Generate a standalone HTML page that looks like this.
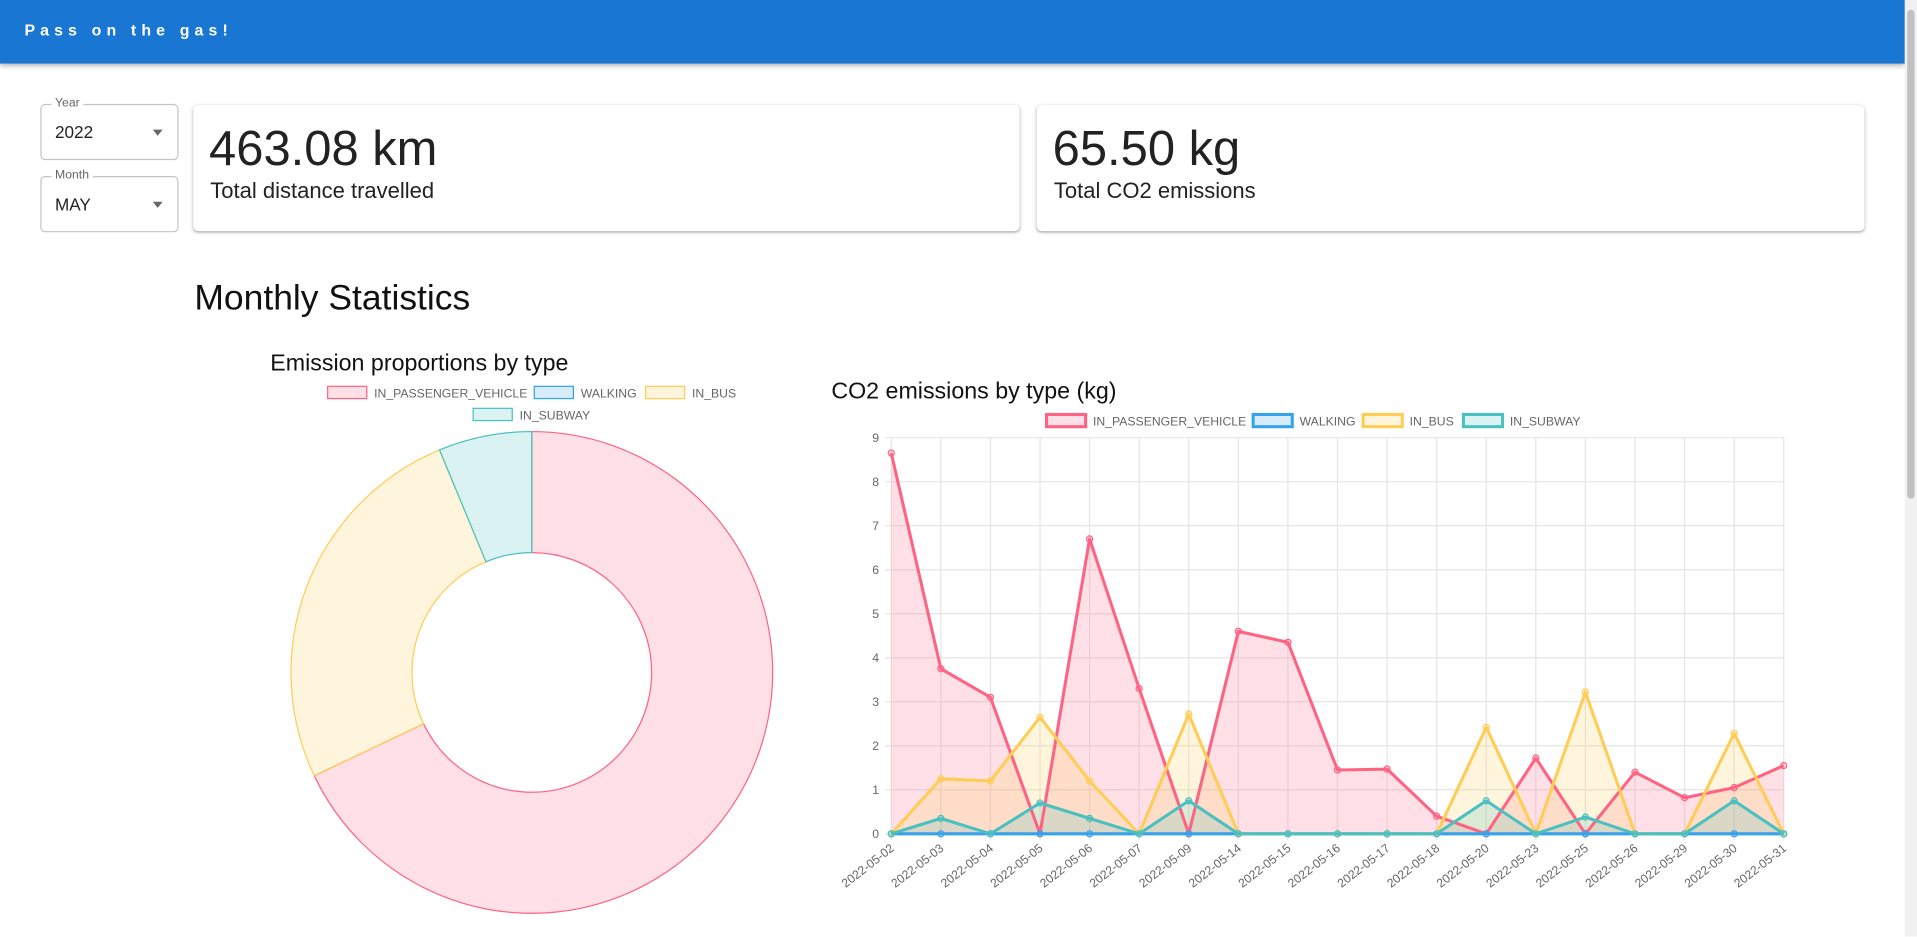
<!DOCTYPE html>
<html><head><meta charset="utf-8">
<style>
html,body{margin:0;padding:0;width:1917px;height:936px;overflow:hidden;background:#fff;font-family:"Liberation Sans",sans-serif;}
#wrap{position:absolute;left:0;top:0;width:1568px;height:766px;transform:scale(1.22258);transform-origin:0 0;}
.abs{position:absolute;}
.appbar{left:0;top:0;width:1558px;height:52px;background:#1976d2;box-shadow:0 2px 4px rgba(0,0,0,.3);}
.appbar span{position:absolute;left:20px;top:17px;color:#fff;font-weight:bold;font-size:13px;letter-spacing:4.2px;}
.sel{border:1px solid #c4c4c4;border-radius:4px;width:111px;height:44px;}
.sel .lbl{position:absolute;left:8px;top:-7px;background:#fff;padding:0 3px;font-size:10px;color:#666;}
.sel .val{position:absolute;left:11px;top:14px;font-size:14px;color:#222;}
.sel .arr{position:absolute;right:12px;top:20px;width:0;height:0;border-left:4px solid transparent;border-right:4px solid transparent;border-top:5px solid #666;}
.card{background:#fff;border-radius:4px;box-shadow:0 1px 3px rgba(0,0,0,.25),0 1px 1px rgba(0,0,0,.12);height:103px;}
.card .big{position:absolute;left:13px;top:14px;font-size:40px;color:#222;}
.card .sub{position:absolute;left:14px;top:60px;font-size:18px;color:#222;}
.scroll{left:1558px;top:0;width:10px;height:766px;background:#f1f1f1;}
.thumb{left:1560px;top:8px;width:6px;height:400px;background:#c1c1c1;border-radius:3px;}
</style></head><body>
<div id="wrap">
<div class="abs appbar"><span>Pass on the gas!</span></div>
<div class="abs scroll"></div>
<div class="abs thumb"></div>
<div class="abs sel" style="left:33px;top:85px"><span class="lbl">Year</span><span class="val">2022</span><span class="arr"></span></div>
<div class="abs sel" style="left:33px;top:144px"><span class="lbl">Month</span><span class="val">MAY</span><span class="arr"></span></div>
<div class="abs card" style="left:158px;top:86px;width:676px"><div class="big">463.08 km</div><div class="sub">Total distance travelled</div></div>
<div class="abs card" style="left:848px;top:86px;width:677px"><div class="big">65.50 kg</div><div class="sub">Total CO2 emissions</div></div>
<div class="abs" style="left:159px;top:228px;font-size:29px;color:#111">Monthly Statistics</div>
<svg class="abs" style="left:0;top:0" width="1568" height="766" id="svg"></svg>
</div>
<script>
const pieLabels=["IN_PASSENGER_VEHICLE","WALKING","IN_BUS","IN_SUBWAY"];
const pieValues=[44.5,0,16.9,4.1];
const dates=["2022-05-02","2022-05-03","2022-05-04","2022-05-05","2022-05-06","2022-05-07","2022-05-09","2022-05-14","2022-05-15","2022-05-16","2022-05-17","2022-05-18","2022-05-20","2022-05-23","2022-05-25","2022-05-26","2022-05-29","2022-05-30","2022-05-31"];
const passenger=[8.65,3.75,3.1,0,6.7,3.3,0,4.6,4.35,1.45,1.47,0.4,0,1.72,0,1.4,0.82,1.05,1.55];
const walking=[0,0,0,0,0,0,0,0,0,0,0,0,0,0,0,0,0,0,0];
const bus=[0,1.25,1.2,2.65,1.2,0,2.72,0,0,0,0,0,2.42,0,3.22,0,0,2.28,0];
const subway=[0,0.35,0,0.7,0.35,0,0.75,0,0,0,0,0,0.75,0,0.38,0,0,0.75,0];
const yTicks=[0,1,2,3,4,5,6,7,8,9];
const NS="http://www.w3.org/2000/svg";
const svg=document.getElementById('svg');
function mk(t,a,p){const e=document.createElementNS(NS,t);for(const k in a)e.setAttribute(k,a[k]);(p||svg).appendChild(e);return e;}
const cols=[["rgb(255,99,132)","rgba(255,99,132,0.2)"],["rgb(54,162,235)","rgba(54,162,235,0.2)"],["rgb(255,205,86)","rgba(255,205,86,0.2)"],["rgb(75,192,192)","rgba(75,192,192,0.2)"]];
function txt(x,y,s,size,fill,anchor,name){const t=mk('text',{x:x,y:y,'font-size':size,fill:fill,'text-anchor':anchor||'start','font-family':'Liberation Sans, sans-serif'});t.textContent=s;


return t;}
// Pie
txt(343,303,"Emission proportions by type",19,"#111","middle","pie-title");
const pl=[[268,316,pieLabels[0]],[437,316,pieLabels[1]],[528,316,pieLabels[2]],[387,334,pieLabels[3]]];
pl.forEach((p,i)=>{const r=mk('rect',{x:p[0],y:p[1],width:32,height:10,fill:cols[i][1],stroke:cols[i][0],'stroke-width':1});


txt(p[0]+38,p[1]+9,p[2],10,"#666","start","pie-legend-label");});
const cx=435,cy=550,R=197,r0=98;
const tot=pieValues.reduce((a,b)=>a+b,0);let ang=0;
pieValues.forEach((v,i)=>{if(v<=0)return;const a0=ang,a1=ang+v/tot*2*Math.PI;ang=a1;
const P=(rr,a)=>[cx+rr*Math.sin(a),cy-rr*Math.cos(a)];const lg=(a1-a0)>Math.PI?1:0;
const [x0,y0]=P(R,a0),[x1,y1]=P(R,a1),[x2,y2]=P(r0,a1),[x3,y3]=P(r0,a0);
const s=mk('path',{d:`M${x0},${y0}A${R},${R} 0 ${lg} 1 ${x1},${y1}L${x2},${y2}A${r0},${r0} 0 ${lg} 0 ${x3},${y3}Z`,fill:cols[i][1],stroke:cols[i][0],'stroke-width':1});

});
// Line chart
txt(680,326,"CO2 emissions by type (kg)",19,"#111","start","line-chart-title");
const ll=[[856,339],[1025,339],[1115,339],[1197,339]];
ll.forEach((p,i)=>{const r=mk('rect',{x:p[0],y:p[1],width:32,height:10,fill:cols[i][1],stroke:cols[i][0],'stroke-width':2.5});


txt(p[0]+38,p[1]+9,pieLabels[i],10,"#666","start","line-legend-label");});
const X0=729,X1=1459,Y0=682,Y9=358;
const xs=i=>X0+(X1-X0)*i/(dates.length-1);
const ys=v=>Y0+(Y9-Y0)*v/9;
yTicks.forEach(t=>{const l=mk('line',{x1:X0-5,x2:X1,y1:ys(t),y2:ys(t),stroke:'#e5e5e5'});


txt(X0-10,ys(t)+3.5,String(t),10,"#666","end","y-tick-label");});
dates.forEach((d,i)=>{const l=mk('line',{x1:xs(i),x2:xs(i),y1:Y9,y2:Y0+5,stroke:'#e5e5e5'});


const t=txt(xs(i)+3,Y0+13,d,10,"#666","end","x-tick-label");t.setAttribute('transform',`rotate(-38 ${xs(i)+3} ${Y0+13})`);});
const series=[passenger,walking,bus,subway];
series.forEach((s,k)=>{const pts=s.map((v,i)=>xs(i)+','+ys(v));
const a=mk('polygon',{points:xs(0)+','+Y0+' '+pts.join(' ')+' '+xs(s.length-1)+','+Y0,fill:cols[k][1]});

});
series.forEach((s,k)=>{const pts=s.map((v,i)=>xs(i)+','+ys(v));
const l=mk('polyline',{points:pts.join(' '),fill:'none',stroke:cols[k][0],'stroke-width':2.5,'stroke-linejoin':'round'});


s.forEach((v,i)=>{const c=mk('circle',{cx:xs(i),cy:ys(v),r:2.5,fill:cols[k][1],stroke:cols[k][0],'stroke-width':1});

});});
</script>
</body></html>
